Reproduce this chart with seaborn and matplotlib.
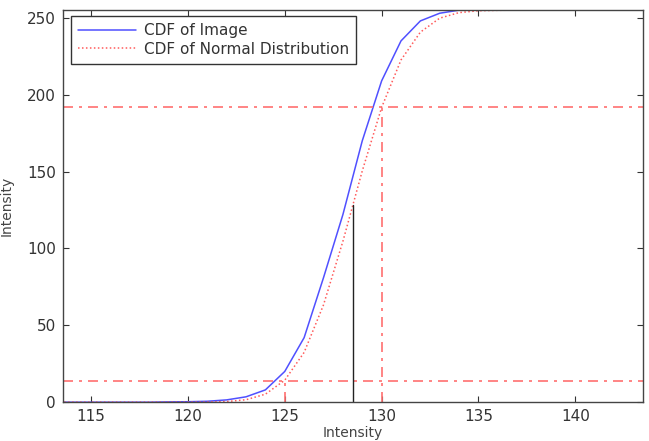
import pandas as pd
import seaborn as sns
import matplotlib
matplotlib.use("Agg")
import matplotlib.pyplot as plt

# ──────────────────────────────────────────────
# Data
# ──────────────────────────────────────────────

intensity = list(range(113, 145))

cdf_image = [0, 0, 0, 0, 0, 0, 0.2, 0.3, 0.6, 1.5, 3.5, 8, 20, 42, 81, 122,
             170, 209, 235, 248, 253, 255, 255, 255, 255, 255, 255, 255,
             255, 255, 255, 255]

cdf_normal = [0, 0, 0, 0, 0, 0, 0, 0, 0.1, 0.4, 1.6, 5.2, 14.3, 32.4, 63.3,
              104.6, 150.4, 191.7, 222.6, 240.7, 249.8, 253.4, 254.6, 254.9,
              255, 255, 255, 255, 255, 255, 255, 255]

low_level = 14
high_level = 192
low_x = 125
high_x = 130
mean_x = 128.5
mean_y = 128

x_ticks = [115, 120, 125, 130, 135, 140]
y_ticks = [0, 50, 100, 150, 200, 250]

df = pd.DataFrame({
    "Intensity": intensity * 2,
    "Value": cdf_image + cdf_normal,
    "Series": ["CDF of Image"] * len(intensity)
              + ["CDF of Normal Distribution"] * len(intensity),
})

# ──────────────────────────────────────────────
# Plot
# ──────────────────────────────────────────────

sns.set_style("ticks")
plt.rcParams["font.family"] = ["DejaVu Sans"]

fig = plt.figure(figsize=(6.49, 4.41), dpi=100)
ax = fig.add_axes([0.097, 0.088, 0.894, 0.889])

sns.lineplot(
    data=df, x="Intensity", y="Value", hue="Series", style="Series",
    palette={"CDF of Image": "#5050ff",
             "CDF of Normal Distribution": "#ff5a5a"},
    dashes={"CDF of Image": "", "CDF of Normal Distribution": (1, 1.6)},
    linewidth=1.1, ax=ax,
)

red_dd = dict(color="#ff7070", linestyle=(0, (6, 3.6, 1.8, 3.6)), linewidth=1.2)
ax.axhline(high_level, **red_dd)
ax.axhline(low_level, **red_dd)
ax.plot([high_x, high_x], [0, high_level], **red_dd)
ax.plot([low_x, low_x], [0, low_level], **red_dd)
ax.plot([mean_x, mean_x], [0, mean_y], color="#222222", linewidth=1.0)

ax.set_xlim(113.55, 143.5)
ax.set_ylim(0, 255)
ax.set_xticks(x_ticks)
ax.set_yticks(y_ticks)
ax.tick_params(direction="in", top=True, right=True, length=4, pad=5,
               labelsize=11, colors="#333333", labelcolor="#333333")
for s in ax.spines.values():
    s.set_visible(True)
    s.set_color("#444444")
    s.set_linewidth(1.0)

ax.set_xlabel("Intensity", fontsize=10, color="#444444", labelpad=1)
ax.set_ylabel("Intensity", fontsize=10, color="#444444", labelpad=10)

leg = ax.legend(loc="upper left", bbox_to_anchor=(8 / 580, 1 - 6 / 392),
                borderaxespad=0, fontsize=11, frameon=True, fancybox=False,
                edgecolor="#333333", framealpha=1, handlelength=3.8,
                handletextpad=0.5, labelspacing=0.25, borderpad=0.45)
leg.get_frame().set_linewidth(1.0)
for t in leg.get_texts():
    t.set_color("#333333")

fig.savefig("out.png", dpi=100)
